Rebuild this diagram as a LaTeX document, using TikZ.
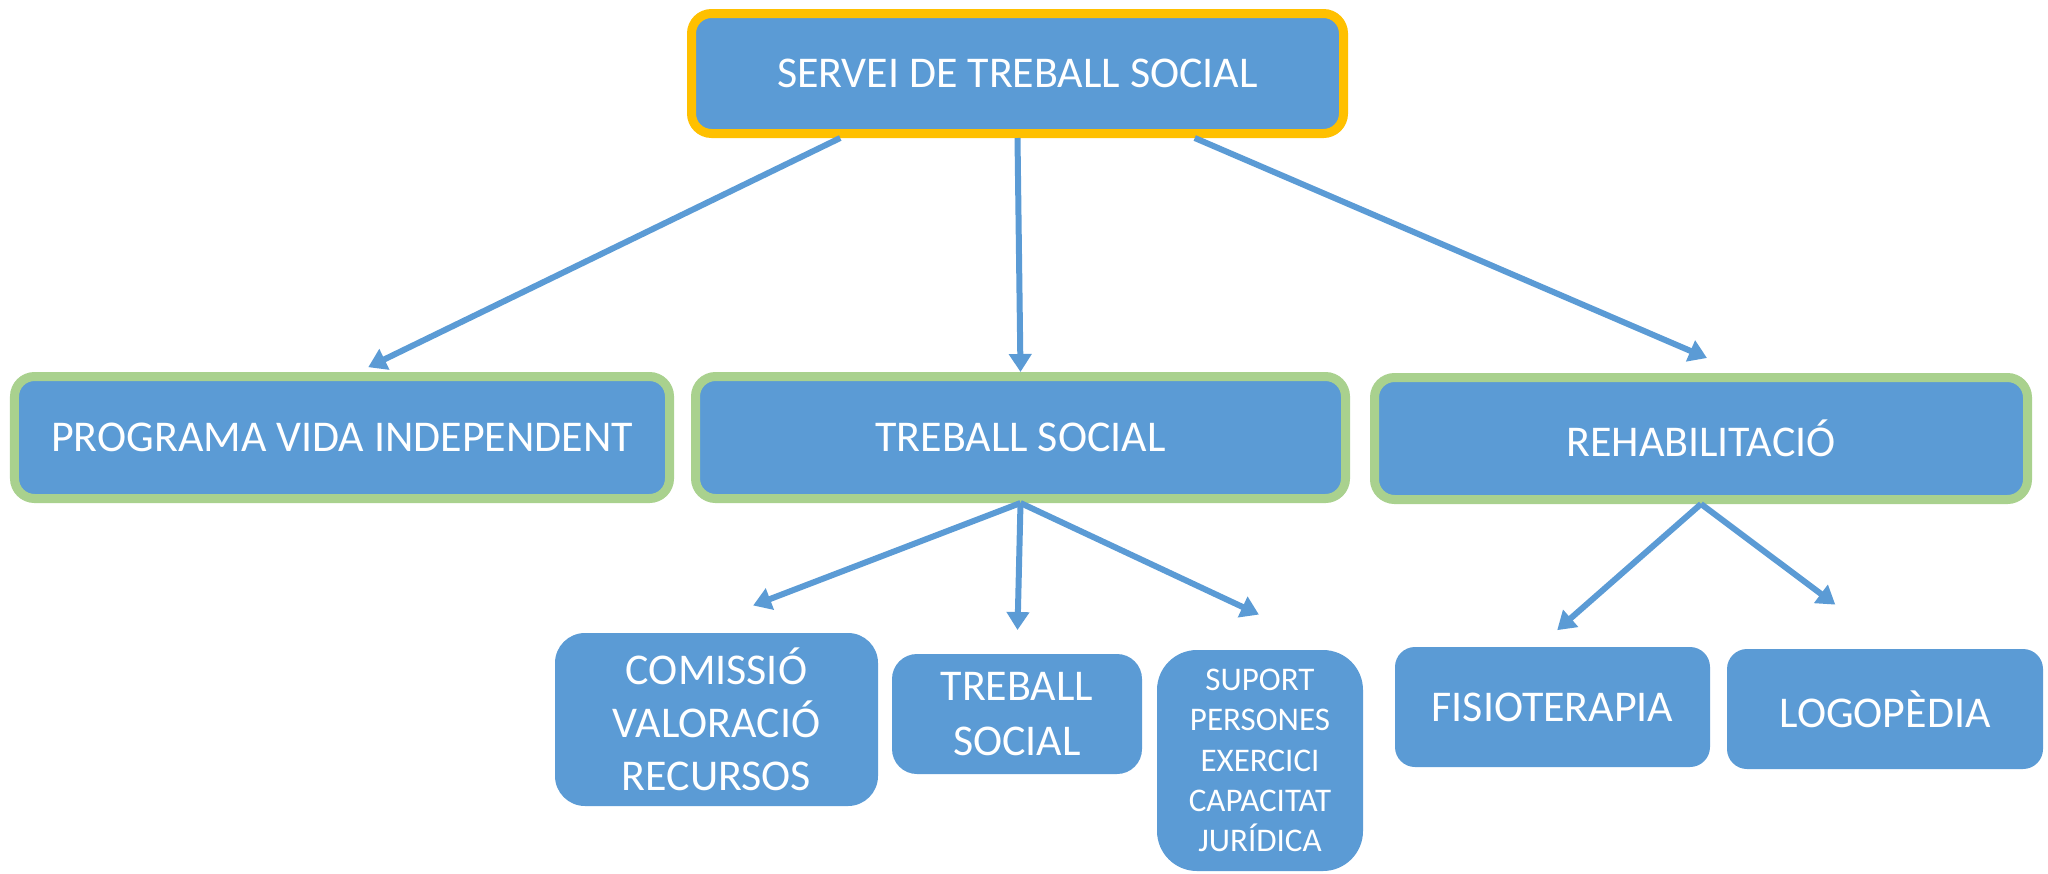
\documentclass[tikz,border=0pt]{standalone}
\usepackage{fontspec}
\setmainfont{Carlito}
\usetikzlibrary{arrows.meta}
\definecolor{boxblue}{HTML}{5B9BD5}
\definecolor{gold}{HTML}{FFC000}
\definecolor{leafgreen}{HTML}{A9D18E}

\begin{document}
\begin{tikzpicture}[headbox/.style={rectangle,rounded corners=0.4cm,fill=boxblue,draw=gold,line width=0.18cm,text=white,inner sep=0},
    areabox/.style={rectangle,rounded corners=0.4cm,fill=boxblue,draw=leafgreen,line width=0.18cm,text=white,inner sep=0,minimum height=2.44cm},
    leafbox/.style={rectangle,fill=boxblue,text=white,inner sep=0,align=center},
    >={Triangle[width=0.44cm,length=0.36cm]},line width=0.12cm,color=boxblue,font=\fontsize{25}{30}\selectfont]
    \useasboundingbox (0,0) rectangle (40.96,-17.46);

    %top
    \node (serv) at (20.35,-1.47) [headbox,minimum width=13.04cm,minimum height=2.4cm]{SERVEI DE TREBALL SOCIAL};

    %areas
    \node (prog) at (6.84,-8.75) [areabox,minimum width=13.1cm]{PROGRAMA VIDA INDEPENDENT};
    \node (treb) at (20.41,-8.75) [areabox,minimum width=13cm]{TREBALL SOCIAL};
    \node (rehab) at (34.02,-8.77) [areabox,minimum width=13.06cm]{REHABILITACIÓ};

    %leaves
    \node (comis) at (14.33,-14.39) [leafbox,rounded corners=0.6cm,minimum width=6.46cm,minimum height=3.46cm]{COMISSIÓ\\VALORACIÓ\\RECURSOS};
    \node (tsoc) at (20.34,-14.28) [leafbox,rounded corners=0.5cm,minimum width=5cm,minimum height=2.4cm,font=\fontsize{25}{31}\selectfont]{TREBALL\\SOCIAL};
    \node (suport) at (25.2,-15.21) [leafbox,rounded corners=0.8cm,minimum width=4.12cm,minimum height=4.42cm,font=\fontsize{18.8}{22.9}\selectfont]{SUPORT\\PERSONES\\EXERCICI\\CAPACITAT\\JURÍDICA};
    \node (fisio) at (31.05,-14.14) [leafbox,rounded corners=0.4cm,minimum width=6.3cm,minimum height=2.4cm]{FISIOTERAPIA};
    \node (logo) at (37.7,-14.18) [leafbox,rounded corners=0.4cm,minimum width=6.32cm,minimum height=2.4cm]{LOGOPÈDIA};

    %top to areas
    \draw [->,shorten >=0.22cm] (serv.200) to (prog.76);
    \draw [->] (serv.south) to (treb.north);
    \draw [->,shorten >=0.76cm] (serv.340) to (rehab.58);

    %treball social
    \draw [->,shorten >=1.37cm] (treb.south) to (comis.107);
    \draw [->,shorten >=0.42cm] (treb.south) to (tsoc.north);
    \draw [->,shorten >=1.53cm] (treb.south) to (suport.59);

    %rehabilitacio
    \draw [->,shorten >=0.42cm] (rehab.south) to (fisio.100);
    \draw [->,shorten >=1.38cm] (rehab.south) to (logo.85);
\end{tikzpicture}
\end{document}
